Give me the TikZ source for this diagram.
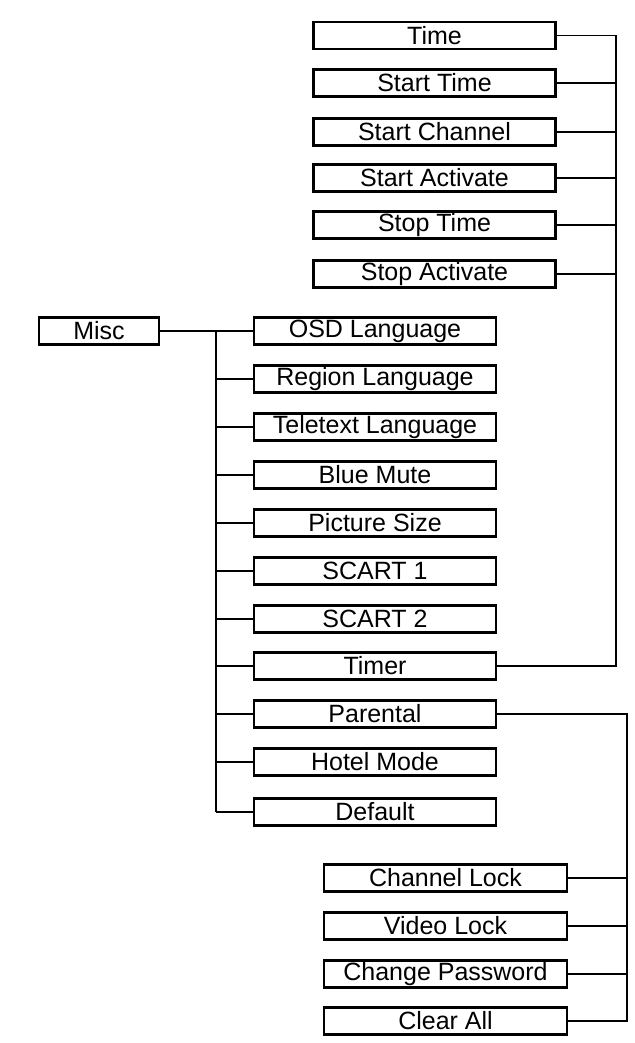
\documentclass[tikz,border=0pt]{standalone}
\usepackage{fontspec}
\setmainfont{Liberation Sans}
\begin{document}
\begin{tikzpicture}[x=1pt,y=-1pt,
  box/.style={draw,line width=2.6pt,minimum height=27pt,inner sep=0pt,font=\fontsize{25}{25}\selectfont},
  top/.style={box,minimum width=242pt},
  mid/.style={box,minimum width=242pt},
  bot/.style={box,minimum width=243pt},
  ln/.style={line width=1.4pt}]
\useasboundingbox (0,0) rectangle (634,1043);
\node[box,minimum width=120pt] (misc) at (99,331) {Misc};
\foreach \n/\t/\y in {t1/Time/35.5,t2/Start Time/83,t3/Start Channel/132,t4/Start Activate/178,t5/Stop Time/225,t6/Stop Activate/274}
  \node[top] (\n) at (434.5,\y) {\t};
\foreach \n/\t/\y in {m1/OSD Language/331,m2/Region Language/379,m3/Teletext Language/427,m4/Blue Mute/475,m5/Picture Size/523,m6/SCART 1/571,m7/SCART 2/619,m8/Timer/666,m9/Parental/714,m10/Hotel Mode/762,m11/Default/812}
  \node[mid] (\n) at (375,\y) {\t};
\foreach \n/\t/\y in {b1/Channel Lock/878,b2/Video Lock/926,b3/Change Password/974,b4/Clear All/1021}
  \node[bot] (\n) at (445.5,\y) {\t};
\coordinate (ja) at (216,331);
\coordinate (jb) at (216,812);
\draw[ln] (misc.east) -- (m1.west);
\draw[ln] (ja) -- (jb);
\foreach \i in {2,...,11} \draw[ln] (m\i.west) -- (m\i.west -| ja);
\coordinate (ra) at (616,35.5);
\draw[ln] (t1.east) -- (ra) |- (m8.east);
\foreach \i in {2,...,6} \draw[ln] (t\i.east) -- (t\i.east -| ra);
\coordinate (rb) at (627,714);
\draw[ln] (m9.east) -- (rb) |- (b4.east);
\foreach \i in {1,2,3} \draw[ln] (b\i.east) -- (b\i.east -| rb);
\end{tikzpicture}
\end{document}
